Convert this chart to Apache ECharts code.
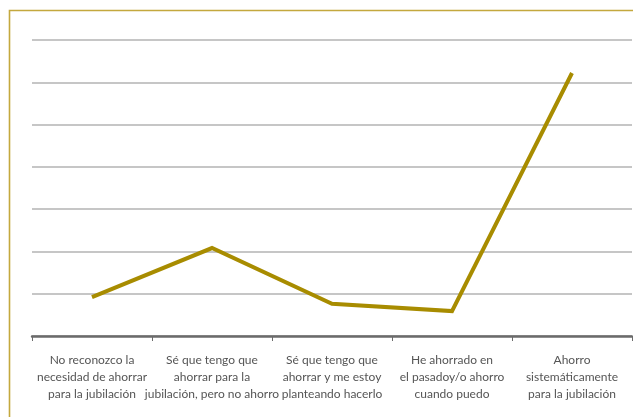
<!DOCTYPE html>
<html><head><meta charset="utf-8">
<script src="https://cdn.jsdelivr.net/npm/echarts@6/dist/echarts.min.js"></script>
<style>html,body{margin:0;padding:0;background:#fff}#c{width:633px;height:417px}</style>
</head><body><div id="c"></div>
<script>
const categories = [
  'No reconozco la\nnecesidad de ahorrar\npara la jubilación',
  'Sé que tengo que\nahorrar para la\njubilación, pero no ahorro',
  'Sé que tengo que\nahorrar y me estoy\nplanteando hacerlo',
  'He ahorrado en\nel pasadoy/o ahorro\ncuando puedo',
  'Ahorro\nsistemáticamente\npara la jubilación'
];
const values = [9.2, 20.8, 7.6, 5.9, 62.2];
const yMin = 0, yMax = 70, yStep = 10;

const chart = echarts.init(document.getElementById('c'), null, {renderer: 'canvas'});
chart.setOption({
  animation: false,
  graphic: [{
    type: 'polyline',
    shape: {points: [[9.5, 420], [9.5, 10.5], [640, 10.5]]},
    style: {stroke: '#c4a83e', lineWidth: 1.6, fill: null},
    silent: true
  }],
  grid: {left: 32, right: 1, top: 40, bottom: 81, containLabel: false},
  xAxis: {
    type: 'category',
    data: categories,
    boundaryGap: true,
    axisLine: {show: true, lineStyle: {color: '#6b6b6b', width: 2.5}},
    axisTick: {show: true, length: 5, lineStyle: {color: '#6b6b6b', width: 1}},
    axisLabel: {
      interval: 0, margin: 16, color: '#555555',
      fontFamily: 'Lato', fontSize: 12, lineHeight: 17
    },
    splitLine: {show: false}
  },
  yAxis: {
    type: 'value', min: yMin, max: yMax, interval: yStep,
    axisLine: {show: false}, axisTick: {show: false}, axisLabel: {show: false},
    splitLine: {show: true, lineStyle: {color: '#b3b3b3', width: 1.5}}
  },
  series: [{
    type: 'line',
    data: values,
    symbol: 'none',
    lineStyle: {color: '#a88c00', width: 4, join: 'miter'},
    z: 5
  }]
});
</script></body></html>
